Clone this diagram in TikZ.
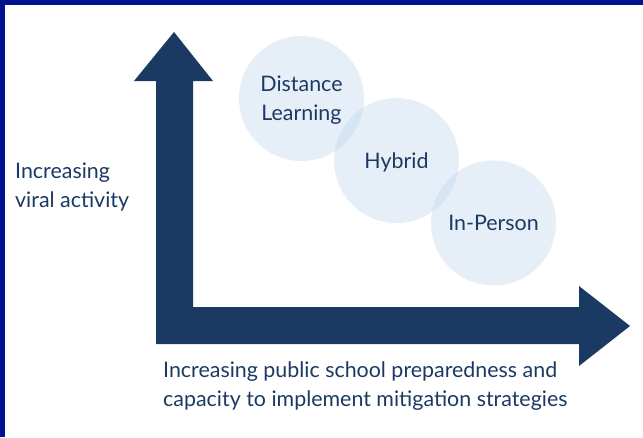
\documentclass[tikz,border=0pt]{standalone}
\usepackage{fontspec}
\setmainfont{Lato}
\usepackage{xcolor}
\usepackage{tikz}

\definecolor{navy}{HTML}{1B3A63}
\definecolor{frame}{HTML}{00138C}
\definecolor{bubblecol}{HTML}{BAD5EC}

\begin{document}
\begin{tikzpicture}[x=1pt, y=-1pt,
        bubble/.style={circle, minimum size=125pt, inner sep=0pt, fill=bubblecol, fill opacity=0.36},
        lbl/.style={text=navy, align=center, font=\fontsize{21.4}{29}\selectfont, inner sep=0pt}]
        \useasboundingbox (0,0) rectangle (643,437);
        \fill[white] (0,0) rectangle (643,437);

        % Frame on top and left
        \fill[frame] (0,0) rectangle (643,5);
        \fill[frame] (0,0) rectangle (5,437);

        % The two axes as one arrow shape
        \fill[navy] (174,32) -- (213,81) -- (193,81) -- (193,307) -- (579,307)
            -- (579,286) -- (630,326) -- (579,366) -- (579,344) -- (156,344)
            -- (156,81) -- (134,81) -- cycle;

        % Bubbles
        \node[bubble] (distance) at (301.5,98.5) {};
        \node[bubble] (hybrid) at (396.5,160.5) {};
        \node[bubble] (inperson) at (493.5,223) {};
        \node[lbl] (distancetxt) at ([yshift=-2]distance.center) {Distance\\Learning};
        \node[lbl] (hybridtxt) at ([yshift=-1.5]hybrid.center) {Hybrid};
        \node[lbl] (inpersontxt) at (inperson.center) {In-Person};

        % Axis labels
        \node[lbl, align=left, anchor=north west] (ylabel) at (15,163) {Increasing\\viral activity};
        \node[lbl, align=left, anchor=north west] (xlabel) at (163,362) {Increasing public school preparedness and\\capacity to implement mitigation strategies};
    \end{tikzpicture}
\end{document}
